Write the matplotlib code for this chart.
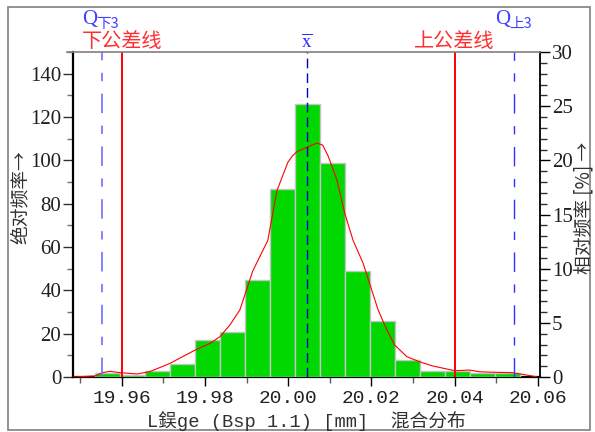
import numpy as np
import matplotlib.pyplot as plt
from matplotlib.lines import Line2D
from matplotlib.patches import Rectangle
from matplotlib.ticker import MultipleLocator, FixedLocator

plt.rcParams['lines.scale_dashes'] = False
plt.rcParams['mathtext.fontset'] = 'stix'

# ====== data ======
bin_start = 19.9536
bin_width = 0.006
counts = [2, 1, 3, 6, 17, 21, 45, 87, 126, 99, 49, 26, 8, 3, 3, 2, 2]
n_total = 500

# smoothed distribution curve (abs. frequency)
curve_x = [19.9483, 19.9536, 19.9553, 19.9572, 19.9596, 19.9637, 19.9668, 19.9716,
           19.9776, 19.9812, 19.9836, 19.9860, 19.9884, 19.9915, 19.9951, 19.9973,
           19.9999, 20.0010, 20.0021, 20.0045, 20.0069, 20.0083, 20.0096, 20.0117,
           20.0136, 20.0156, 20.0180, 20.0216, 20.0237, 20.0256, 20.0285, 20.0316,
           20.0347, 20.0381, 20.0400, 20.0436, 20.0460, 20.0491, 20.0539, 20.0573,
           20.0597]
curve_y = [0, 0.5, 2, 2.6, 2, 1.4, 2.5, 6.3, 12.4, 15.5, 18.6, 24, 31, 49, 63, 86,
           99, 102, 104, 106, 108, 107, 102, 91, 75.5, 63, 52.5, 31, 21.7, 14.7,
           9.4, 7, 5.1, 3.7, 2.9, 3.2, 2.4, 2.2, 2, 0.9, 0.1]

lower_tol = 19.96
upper_tol = 20.04
x_mean = 20.0045
q_low = 19.9552
q_up = 20.0543

xticks = [19.96, 19.98, 20.00, 20.02, 20.04, 20.06]
xticklabels = ['19.96', '19.98', '20.00', '20.02', '20.04', '20.06']
# ==========================================

W, H = 595, 432
fig = plt.figure(figsize=(W / 100, H / 100), dpi=100)
ax = fig.add_axes([73 / W, 1 - 377 / H, (540 - 73) / W, (377 - 52) / H])

serif = ['Liberation Serif', 'Noto Sans CJK SC']
mono = ['Liberation Mono', 'Noto Sans CJK SC']
cjk = ['Noto Sans CJK SC', 'DejaVu Sans']

lefts = bin_start + bin_width * np.arange(len(counts))
ax.bar(lefts, counts, width=bin_width, align='edge', color='#00d800',
       edgecolor='#c4c4c4', linewidth=1.0, zorder=3)
ax.plot(curve_x, curve_y, color='red', lw=0.8, zorder=4)

ax.axvline(lower_tol, color='red', lw=1.4, zorder=5)
ax.axvline(upper_tol, color='red', lw=1.4, zorder=5)
ax.axvline(x_mean, color='#0000c8', lw=1.0, dashes=(7, 3.6), zorder=5)
ax.axvline(q_low, color='#7878ff', lw=1.3, dashes=(14, 9, 6, 9), zorder=5)
ax.axvline(q_up, color='#3030ff', lw=1.0, dashes=(14, 9, 6, 9), zorder=5)

ax.set_xlim(19.9483, 20.0605)
ax.set_ylim(0, 150)

# spines
for s in ['top', 'right']:
    ax.spines[s].set_visible(False)
ax.spines['left'].set_linewidth(1.6)
ax.spines['bottom'].set_linewidth(1.6)
ax.spines['left'].set_color('black')
ax.spines['bottom'].set_color('black')

ax.yaxis.set_major_locator(MultipleLocator(20))
ax.yaxis.set_minor_locator(MultipleLocator(10))
ax.xaxis.set_major_locator(FixedLocator(xticks))
ax.set_xticklabels(xticklabels)
ax.xaxis.set_minor_locator(MultipleLocator(0.01))
ax.tick_params(axis='y', which='major', length=7.5, width=1.0, color='#303030', pad=1)
ax.tick_params(axis='y', which='minor', length=4.5, width=1.0, color='#707070')
ax.tick_params(axis='x', which='major', length=6.5, width=1.0, color='black', pad=3)
ax.tick_params(axis='x', which='minor', length=4, width=1.0, color='#606060')
for lab in ax.get_yticklabels():
    lab.set_family(serif)
    lab.set_fontsize(15)
    lab.set_color('#202020')
for lab in ax.get_xticklabels():
    lab.set_family(mono)
    lab.set_fontsize(14)
    lab.set_color('#202020')

ax2 = ax.twinx()
ax2.set_ylim(0, 150 * 100 / n_total)
for s in ['top', 'left', 'bottom']:
    ax2.spines[s].set_visible(False)
ax2.spines['right'].set_linewidth(1.3)
ax2.spines['right'].set_color('black')
ax2.yaxis.set_major_locator(MultipleLocator(5))
ax2.yaxis.set_minor_locator(MultipleLocator(1))
ax2.tick_params(axis='y', which='major', length=7.5, width=1.0, color='black', pad=1)
ax2.tick_params(axis='y', which='minor', length=5, width=1.0, color='#303030')
for lab in ax2.get_yticklabels():
    lab.set_family(serif)
    lab.set_fontsize(15)
    lab.set_color('#202020')

# top frame line
fig.add_artist(Line2D([67 / W, 540 / W], [1 - 52 / H, 1 - 52 / H],
                      color='#808080', lw=1.2))
# outer border
fig.add_artist(Rectangle((8 / W, 1 - 430 / H), (590 - 8) / W, (430 - 7) / H,
                         fill=False, edgecolor='#808080', lw=1.2))

# line labels above the plot
tr = ax.get_xaxis_transform()
red_txt = '#ff3030'
blue_txt = '#4040ff'
ax.text(lower_tol, 1.031, '下公差线', transform=tr, ha='center', va='center',
        color=red_txt, fontsize=14.5, family=cjk)
ax.text(upper_tol, 1.031, '上公差线', transform=tr, ha='center', va='center',
        color=red_txt, fontsize=14.5, family=cjk)
ax.text(x_mean, 1.031, r'$\overline{\mathrm{x}}$', transform=tr, ha='center',
        va='center', color='#3030ff', fontsize=14)
for xq, sub in [(q_low, '下3'), (q_up, '上3')]:
    ax.annotate('Q', (xq, 1.098), xycoords=tr, xytext=(-12, 1),
                textcoords='offset pixels', ha='center', va='center',
                color=blue_txt, fontsize=15, family=serif)
    ax.annotate(sub, (xq, 1.098), xycoords=tr, xytext=(-5, -4),
                textcoords='offset pixels', ha='left', va='center',
                color=blue_txt, fontsize=10.5, family=cjk)

# axis labels
fig.text(306 / W, 1 - 421 / H, 'L鋘ge (Bsp 1.1) [mm]  混合分布', ha='center',
         va='center', fontsize=13.5, color='#303030', family=mono)
fig.text(20 / W, 1 - 197 / H, '绝对频率→', rotation=90, ha='center',
         va='center', fontsize=13.5, color='#303030', family=cjk)
fig.text(584 / W, 1 - 208 / H, '相对频率 [%] →', rotation=90, ha='center',
         va='center', fontsize=13.5, color='#303030', family=cjk)

fig.savefig('out.png', dpi=100)
